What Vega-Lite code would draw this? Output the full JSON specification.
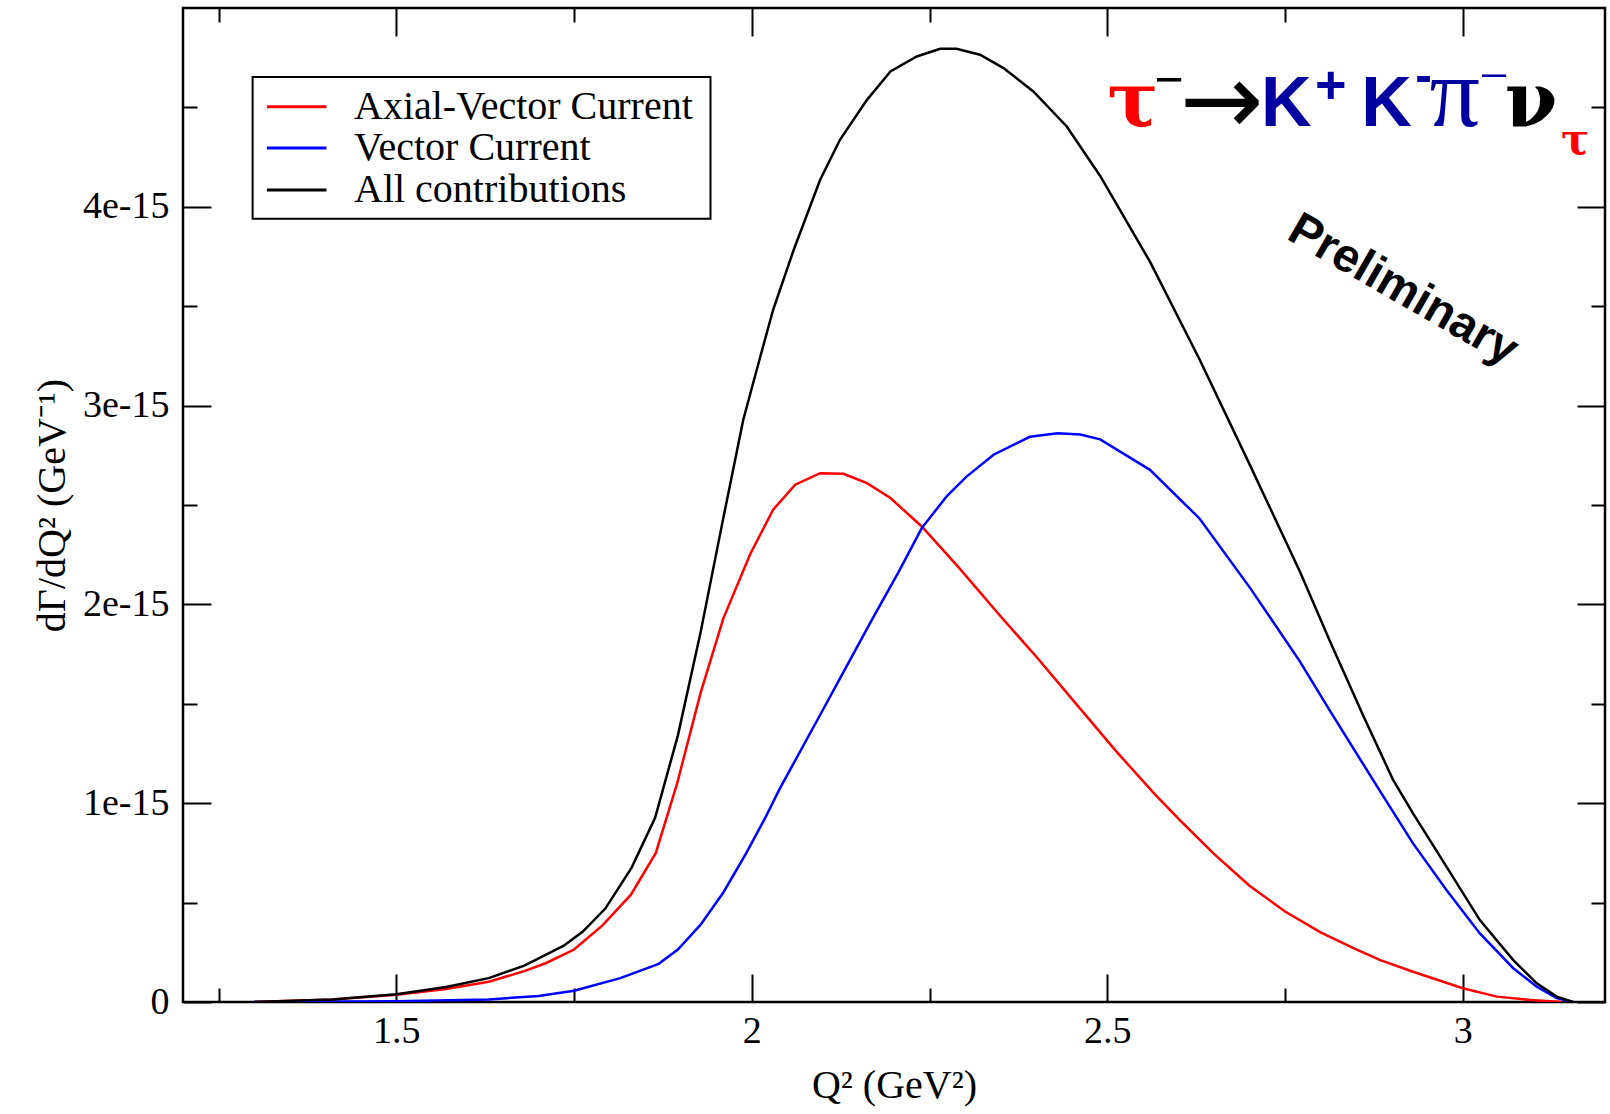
{
  "$schema": "https://vega.github.io/schema/vega-lite/v6.json",
  "width": 1422,
  "height": 994,
  "autosize": "none",
  "padding": {"left": 183, "top": 8, "right": 5, "bottom": 112},
  "background": "white",
  "config": {
    "view": {"stroke": "black", "strokeWidth": 2.5},
    "font": "Liberation Serif"
  },
  "datasets": {
    "curves": [
      {"series": "Axial-Vector Current", "q2": 1.30, "rate": 0},
      {"series": "Axial-Vector Current", "q2": 1.41, "rate": 1.2e-17},
      {"series": "Axial-Vector Current", "q2": 1.50, "rate": 3.6e-17},
      {"series": "Axial-Vector Current", "q2": 1.57, "rate": 6.5e-17},
      {"series": "Axial-Vector Current", "q2": 1.63, "rate": 1.02e-16},
      {"series": "Axial-Vector Current", "q2": 1.68, "rate": 1.55e-16},
      {"series": "Axial-Vector Current", "q2": 1.71, "rate": 1.95e-16},
      {"series": "Axial-Vector Current", "q2": 1.75, "rate": 2.64e-16},
      {"series": "Axial-Vector Current", "q2": 1.79, "rate": 3.85e-16},
      {"series": "Axial-Vector Current", "q2": 1.83, "rate": 5.4e-16},
      {"series": "Axial-Vector Current", "q2": 1.865, "rate": 7.5e-16},
      {"series": "Axial-Vector Current", "q2": 1.895, "rate": 1.10e-15},
      {"series": "Axial-Vector Current", "q2": 1.928, "rate": 1.555e-15},
      {"series": "Axial-Vector Current", "q2": 1.96, "rate": 1.93e-15},
      {"series": "Axial-Vector Current", "q2": 1.998, "rate": 2.255e-15},
      {"series": "Axial-Vector Current", "q2": 2.03, "rate": 2.476e-15},
      {"series": "Axial-Vector Current", "q2": 2.061, "rate": 2.602e-15},
      {"series": "Axial-Vector Current", "q2": 2.096, "rate": 2.66e-15},
      {"series": "Axial-Vector Current", "q2": 2.129, "rate": 2.657e-15},
      {"series": "Axial-Vector Current", "q2": 2.162, "rate": 2.61e-15},
      {"series": "Axial-Vector Current", "q2": 2.195, "rate": 2.535e-15},
      {"series": "Axial-Vector Current", "q2": 2.239, "rate": 2.392e-15},
      {"series": "Axial-Vector Current", "q2": 2.29, "rate": 2.19e-15},
      {"series": "Axial-Vector Current", "q2": 2.348, "rate": 1.948e-15},
      {"series": "Axial-Vector Current", "q2": 2.402, "rate": 1.729e-15},
      {"series": "Axial-Vector Current", "q2": 2.457, "rate": 1.496e-15},
      {"series": "Axial-Vector Current", "q2": 2.512, "rate": 1.263e-15},
      {"series": "Axial-Vector Current", "q2": 2.567, "rate": 1.044e-15},
      {"series": "Axial-Vector Current", "q2": 2.602, "rate": 9.15e-16},
      {"series": "Axial-Vector Current", "q2": 2.65, "rate": 7.45e-16},
      {"series": "Axial-Vector Current", "q2": 2.70, "rate": 5.85e-16},
      {"series": "Axial-Vector Current", "q2": 2.75, "rate": 4.55e-16},
      {"series": "Axial-Vector Current", "q2": 2.80, "rate": 3.5e-16},
      {"series": "Axial-Vector Current", "q2": 2.85, "rate": 2.65e-16},
      {"series": "Axial-Vector Current", "q2": 2.884, "rate": 2.11e-16},
      {"series": "Axial-Vector Current", "q2": 2.93, "rate": 1.52e-16},
      {"series": "Axial-Vector Current", "q2": 3.0, "rate": 6.9e-17},
      {"series": "Axial-Vector Current", "q2": 3.048, "rate": 2.7e-17},
      {"series": "Axial-Vector Current", "q2": 3.095, "rate": 1.0e-17},
      {"series": "Axial-Vector Current", "q2": 3.14, "rate": 0},
      {"series": "Vector Current", "q2": 1.30, "rate": 0},
      {"series": "Vector Current", "q2": 1.50, "rate": 4e-18},
      {"series": "Vector Current", "q2": 1.63, "rate": 1.3e-17},
      {"series": "Vector Current", "q2": 1.70, "rate": 3.0e-17},
      {"series": "Vector Current", "q2": 1.75, "rate": 5.7e-17},
      {"series": "Vector Current", "q2": 1.815, "rate": 1.2e-16},
      {"series": "Vector Current", "q2": 1.869, "rate": 1.92e-16},
      {"series": "Vector Current", "q2": 1.896, "rate": 2.64e-16},
      {"series": "Vector Current", "q2": 1.928, "rate": 3.89e-16},
      {"series": "Vector Current", "q2": 1.96, "rate": 5.51e-16},
      {"series": "Vector Current", "q2": 1.992, "rate": 7.48e-16},
      {"series": "Vector Current", "q2": 2.019, "rate": 9.27e-16},
      {"series": "Vector Current", "q2": 2.039, "rate": 1.071e-15},
      {"series": "Vector Current", "q2": 2.097, "rate": 1.45e-15},
      {"series": "Vector Current", "q2": 2.126, "rate": 1.64e-15},
      {"series": "Vector Current", "q2": 2.17, "rate": 1.93e-15},
      {"series": "Vector Current", "q2": 2.206, "rate": 2.16e-15},
      {"series": "Vector Current", "q2": 2.239, "rate": 2.384e-15},
      {"series": "Vector Current", "q2": 2.274, "rate": 2.543e-15},
      {"series": "Vector Current", "q2": 2.302, "rate": 2.643e-15},
      {"series": "Vector Current", "q2": 2.34, "rate": 2.753e-15},
      {"series": "Vector Current", "q2": 2.391, "rate": 2.843e-15},
      {"series": "Vector Current", "q2": 2.43, "rate": 2.861e-15},
      {"series": "Vector Current", "q2": 2.462, "rate": 2.855e-15},
      {"series": "Vector Current", "q2": 2.49, "rate": 2.83e-15},
      {"series": "Vector Current", "q2": 2.56, "rate": 2.677e-15},
      {"series": "Vector Current", "q2": 2.63, "rate": 2.431e-15},
      {"series": "Vector Current", "q2": 2.701, "rate": 2.082e-15},
      {"series": "Vector Current", "q2": 2.771, "rate": 1.712e-15},
      {"series": "Vector Current", "q2": 2.813, "rate": 1.466e-15},
      {"series": "Vector Current", "q2": 2.884, "rate": 1.058e-15},
      {"series": "Vector Current", "q2": 2.93, "rate": 7.98e-16},
      {"series": "Vector Current", "q2": 2.977, "rate": 5.63e-16},
      {"series": "Vector Current", "q2": 3.024, "rate": 3.45e-16},
      {"series": "Vector Current", "q2": 3.071, "rate": 1.7e-16},
      {"series": "Vector Current", "q2": 3.104, "rate": 7.7e-17},
      {"series": "Vector Current", "q2": 3.132, "rate": 2.0e-17},
      {"series": "Vector Current", "q2": 3.155, "rate": 0},
      {"series": "All contributions", "q2": 1.30, "rate": 0},
      {"series": "All contributions", "q2": 1.41, "rate": 1.3e-17},
      {"series": "All contributions", "q2": 1.50, "rate": 3.9e-17},
      {"series": "All contributions", "q2": 1.57, "rate": 7.5e-17},
      {"series": "All contributions", "q2": 1.63, "rate": 1.2e-16},
      {"series": "All contributions", "q2": 1.68, "rate": 1.83e-16},
      {"series": "All contributions", "q2": 1.735, "rate": 2.82e-16},
      {"series": "All contributions", "q2": 1.762, "rate": 3.53e-16},
      {"series": "All contributions", "q2": 1.794, "rate": 4.7e-16},
      {"series": "All contributions", "q2": 1.831, "rate": 6.76e-16},
      {"series": "All contributions", "q2": 1.864, "rate": 9.27e-16},
      {"series": "All contributions", "q2": 1.896, "rate": 1.34e-15},
      {"series": "All contributions", "q2": 1.928, "rate": 1.86e-15},
      {"series": "All contributions", "q2": 1.958, "rate": 2.40e-15},
      {"series": "All contributions", "q2": 1.988, "rate": 2.929e-15},
      {"series": "All contributions", "q2": 2.012, "rate": 3.247e-15},
      {"series": "All contributions", "q2": 2.03, "rate": 3.482e-15},
      {"series": "All contributions", "q2": 2.059, "rate": 3.784e-15},
      {"series": "All contributions", "q2": 2.096, "rate": 4.135e-15},
      {"series": "All contributions", "q2": 2.124, "rate": 4.337e-15},
      {"series": "All contributions", "q2": 2.162, "rate": 4.538e-15},
      {"series": "All contributions", "q2": 2.195, "rate": 4.681e-15},
      {"series": "All contributions", "q2": 2.232, "rate": 4.756e-15},
      {"series": "All contributions", "q2": 2.265, "rate": 4.795e-15},
      {"series": "All contributions", "q2": 2.288, "rate": 4.795e-15},
      {"series": "All contributions", "q2": 2.321, "rate": 4.765e-15},
      {"series": "All contributions", "q2": 2.354, "rate": 4.698e-15},
      {"series": "All contributions", "q2": 2.396, "rate": 4.58e-15},
      {"series": "All contributions", "q2": 2.443, "rate": 4.404e-15},
      {"series": "All contributions", "q2": 2.49, "rate": 4.155e-15},
      {"series": "All contributions", "q2": 2.56, "rate": 3.724e-15},
      {"series": "All contributions", "q2": 2.63, "rate": 3.231e-15},
      {"series": "All contributions", "q2": 2.701, "rate": 2.698e-15},
      {"series": "All contributions", "q2": 2.771, "rate": 2.164e-15},
      {"series": "All contributions", "q2": 2.813, "rate": 1.816e-15},
      {"series": "All contributions", "q2": 2.86, "rate": 1.44e-15},
      {"series": "All contributions", "q2": 2.902, "rate": 1.117e-15},
      {"series": "All contributions", "q2": 2.93, "rate": 9.49e-16},
      {"series": "All contributions", "q2": 2.977, "rate": 6.81e-16},
      {"series": "All contributions", "q2": 3.024, "rate": 4.12e-16},
      {"series": "All contributions", "q2": 3.071, "rate": 2.11e-16},
      {"series": "All contributions", "q2": 3.104, "rate": 9.4e-17},
      {"series": "All contributions", "q2": 3.132, "rate": 2.7e-17},
      {"series": "All contributions", "q2": 3.155, "rate": 0}
    ],
    "legendEntries": [
      {"series": "Axial-Vector Current", "q2": 1.318, "q2end": 1.4018, "labelq2": 1.4405, "rate": 4.503e-15},
      {"series": "Vector Current", "q2": 1.318, "q2end": 1.4018, "labelq2": 1.4405, "rate": 4.2963e-15},
      {"series": "All contributions", "q2": 1.318, "q2end": 1.4018, "labelq2": 1.4405, "rate": 4.0845e-15}
    ]
  },
  "layer": [
    {
      "data": {"name": "curves"},
      "mark": {"type": "line", "strokeWidth": 2.5, "clip": true},
      "encoding": {
        "x": {
          "field": "q2", "type": "quantitative",
          "scale": {"domain": [1.2, 3.2], "nice": false, "zero": false},
          "axis": {
            "orient": "bottom",
            "values": [1.25, 1.5, 1.75, 2, 2.25, 2.5, 2.75, 3],
            "labelExpr": "datum.value % 0.5 === 0 ? '' + datum.value : ''",
            "tickSize": {"condition": {"test": "datum.value % 0.5 === 0", "value": -28}, "value": -14},
            "tickColor": "black", "tickWidth": 2,
            "domain": false, "grid": false,
            "labelFont": "Liberation Serif", "labelFontSize": 38, "labelColor": "black",
            "labelPadding": 38,
            "title": "Q² (GeV²)",
            "titleFont": "Liberation Serif", "titleFontSize": 40, "titleFontWeight": "normal",
            "titleColor": "black", "titlePadding": 15
          }
        },
        "y": {
          "field": "rate", "type": "quantitative",
          "scale": {"domain": [0, 5e-15], "nice": false, "zero": false},
          "axis": {
            "orient": "left",
            "values": [0, 5e-16, 1e-15, 1.5e-15, 2e-15, 2.5e-15, 3e-15, 3.5e-15, 4e-15, 4.5e-15],
            "labelExpr": "abs(datum.value*1e15 - round(datum.value*1e15)) < 0.01 ? (datum.value == 0 ? '0' : round(datum.value*1e15) + 'e-15') : ''",
            "tickSize": {"condition": {"test": "abs(datum.value*1e15 - round(datum.value*1e15)) < 0.01", "value": -28}, "value": -14},
            "tickColor": "black", "tickWidth": 2,
            "domain": false, "grid": false,
            "labelFont": "Liberation Serif", "labelFontSize": 38, "labelColor": "black",
            "labelPadding": 42,
            "title": "dΓ/dQ² (GeV⁻¹)",
            "titleFont": "Liberation Serif", "titleFontSize": 40, "titleFontWeight": "normal",
            "titleColor": "black", "titlePadding": 10
          }
        },
        "color": {
          "field": "series", "type": "nominal",
          "scale": {"domain": ["Axial-Vector Current", "Vector Current", "All contributions"], "range": ["#ff0000", "#0000ff", "#000000"]},
          "legend": null
        }
      }
    },
    {
      "data": {"values": [{"label": "Preliminary", "q2": 2.916, "rate": 3.581e-15}]},
      "mark": {"type": "text", "font": "Liberation Sans", "fontWeight": "bold", "fontSize": 47, "angle": 30, "align": "center", "baseline": "middle", "color": "black"},
      "encoding": {
        "x": {
          "field": "q2", "type": "quantitative",
          "scale": {"domain": [1.2, 3.2], "nice": false, "zero": false},
          "axis": {
            "orient": "top",
            "values": [1.25, 1.5, 1.75, 2, 2.25, 2.5, 2.75, 3],
            "labels": false, "title": null,
            "tickSize": {"condition": {"test": "datum.value % 0.5 === 0", "value": -28}, "value": -14},
            "tickColor": "black", "tickWidth": 2,
            "domain": false, "grid": false
          }
        },
        "y": {
          "field": "rate", "type": "quantitative",
          "scale": {"domain": [0, 5e-15], "nice": false, "zero": false},
          "axis": {
            "orient": "right",
            "values": [0, 5e-16, 1e-15, 1.5e-15, 2e-15, 2.5e-15, 3e-15, 3.5e-15, 4e-15, 4.5e-15],
            "labels": false, "title": null,
            "tickSize": {"condition": {"test": "abs(datum.value*1e15 - round(datum.value*1e15)) < 0.01", "value": -28}, "value": -14},
            "tickColor": "black", "tickWidth": 2,
            "domain": false, "grid": false
          }
        },
        "text": {"field": "label"}
      }
    },
    {
      "data": {"values": [{"q2": 1.2979, "q2end": 1.9419, "rate": 3.94e-15, "rateend": 4.653e-15}]},
      "mark": {"type": "rect", "fill": "white", "stroke": "black", "strokeWidth": 2},
      "encoding": {
        "x": {"field": "q2", "type": "quantitative", "axis": null},
        "x2": {"field": "q2end"},
        "y": {"field": "rate", "type": "quantitative", "axis": null},
        "y2": {"field": "rateend"}
      }
    },
    {
      "data": {"name": "legendEntries"},
      "mark": {"type": "rule", "strokeWidth": 3},
      "encoding": {
        "x": {"field": "q2", "type": "quantitative", "axis": null},
        "x2": {"field": "q2end"},
        "y": {"field": "rate", "type": "quantitative", "axis": null},
        "color": {"field": "series", "type": "nominal", "legend": null}
      }
    },
    {
      "data": {"name": "legendEntries"},
      "mark": {"type": "text", "font": "Liberation Serif", "fontSize": 40, "align": "left", "baseline": "middle", "color": "black"},
      "encoding": {
        "x": {"field": "labelq2", "type": "quantitative", "axis": null},
        "y": {"field": "rate", "type": "quantitative", "axis": null},
        "text": {"field": "series"}
      }
    },
    {
      "data": {"values": [{"label": "τ", "q2": 2.500, "rate": 4.406e-15}]},
      "mark": {"type": "text", "font": "DejaVu Serif", "fontWeight": "bold", "fontSize": 76, "align": "left", "baseline": "alphabetic", "color": "#ff0000"},
      "encoding": {"x": {"field": "q2", "type": "quantitative", "axis": null}, "y": {"field": "rate", "type": "quantitative", "axis": null}, "text": {"field": "label"}}
    },
    {
      "data": {"values": [{"label": "−", "q2": 2.566, "rate": 4.552e-15}]},
      "mark": {"type": "text", "font": "Liberation Serif", "fontWeight": "bold", "fontSize": 52, "align": "left", "baseline": "alphabetic", "color": "black"},
      "encoding": {"x": {"field": "q2", "type": "quantitative", "axis": null}, "y": {"field": "rate", "type": "quantitative", "axis": null}, "text": {"field": "label"}}
    },
    {
      "data": {"values": [{"label": "→", "q2": 2.602, "rate": 4.366e-15}]},
      "mark": {"type": "text", "font": "DejaVu Sans", "fontSize": 100, "align": "left", "baseline": "alphabetic", "color": "black"},
      "encoding": {"x": {"field": "q2", "type": "quantitative", "axis": null}, "y": {"field": "rate", "type": "quantitative", "axis": null}, "text": {"field": "label"}}
    },
    {
      "data": {"values": [{"label": "K", "q2": 2.716, "rate": 4.406e-15}, {"label": "K", "q2": 2.857, "rate": 4.406e-15}]},
      "mark": {"type": "text", "font": "Liberation Sans", "fontWeight": "bold", "fontSize": 70, "align": "left", "baseline": "alphabetic", "color": "#0000a0"},
      "encoding": {"x": {"field": "q2", "type": "quantitative", "axis": null}, "y": {"field": "rate", "type": "quantitative", "axis": null}, "text": {"field": "label"}}
    },
    {
      "data": {"values": [{"label": "+", "q2": 2.792, "rate": 4.52e-15}]},
      "mark": {"type": "text", "font": "Liberation Sans", "fontWeight": "bold", "fontSize": 54, "align": "left", "baseline": "alphabetic", "color": "#0000a0"},
      "encoding": {"x": {"field": "q2", "type": "quantitative", "axis": null}, "y": {"field": "rate", "type": "quantitative", "axis": null}, "text": {"field": "label"}}
    },
    {
      "data": {"values": [{"label": "-", "q2": 2.933, "rate": 4.575e-15}]},
      "mark": {"type": "text", "font": "Liberation Sans", "fontWeight": "bold", "fontSize": 50, "align": "left", "baseline": "alphabetic", "color": "#0000a0"},
      "encoding": {"x": {"field": "q2", "type": "quantitative", "axis": null}, "y": {"field": "rate", "type": "quantitative", "axis": null}, "text": {"field": "label"}}
    },
    {
      "data": {"values": [{"label": "π", "q2": 2.953, "rate": 4.406e-15}]},
      "mark": {"type": "text", "font": "Liberation Serif", "fontSize": 100, "align": "left", "baseline": "alphabetic", "color": "#0000a0"},
      "encoding": {"x": {"field": "q2", "type": "quantitative", "axis": null}, "y": {"field": "rate", "type": "quantitative", "axis": null}, "text": {"field": "label"}}
    },
    {
      "data": {"values": [{"label": "−", "q2": 3.023, "rate": 4.572e-15}]},
      "mark": {"type": "text", "font": "Liberation Serif", "fontSize": 52, "align": "left", "baseline": "alphabetic", "color": "#0000a0"},
      "encoding": {"x": {"field": "q2", "type": "quantitative", "axis": null}, "y": {"field": "rate", "type": "quantitative", "axis": null}, "text": {"field": "label"}}
    },
    {
      "data": {"values": [{"label": "ν", "q2": 3.059, "rate": 4.406e-15}]},
      "mark": {"type": "text", "font": "DejaVu Serif", "fontWeight": "bold", "fontSize": 76, "align": "left", "baseline": "alphabetic", "color": "black"},
      "encoding": {"x": {"field": "q2", "type": "quantitative", "axis": null}, "y": {"field": "rate", "type": "quantitative", "axis": null}, "text": {"field": "label"}}
    },
    {
      "data": {"values": [{"label": "τ", "q2": 3.138, "rate": 4.266e-15}]},
      "mark": {"type": "text", "font": "DejaVu Serif", "fontWeight": "bold", "fontSize": 42, "align": "left", "baseline": "alphabetic", "color": "#ff0000"},
      "encoding": {"x": {"field": "q2", "type": "quantitative", "axis": null}, "y": {"field": "rate", "type": "quantitative", "axis": null}, "text": {"field": "label"}}
    }
  ]
}
